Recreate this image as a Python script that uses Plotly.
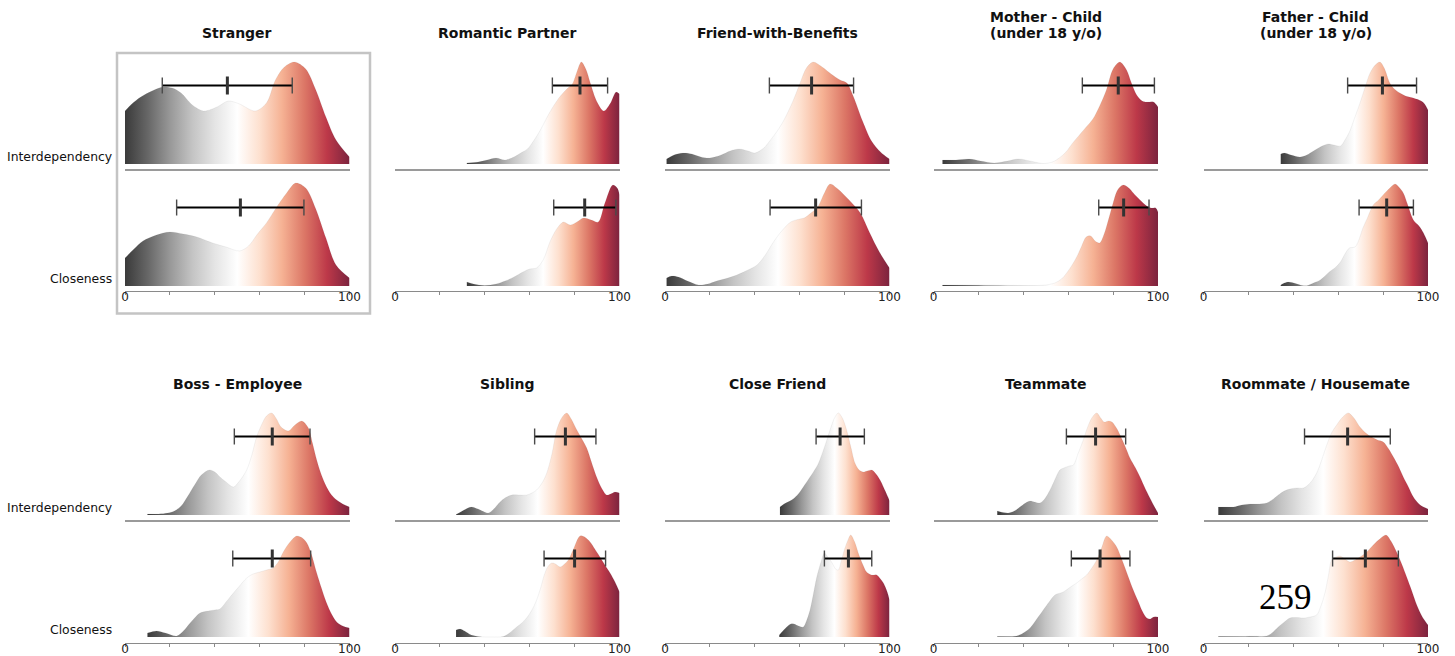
import plotly.graph_objects as go

# ---------------------------------------------------------------- data
# Relationship types, in panel order (two rows of five)
RELATIONSHIPS = [
    "Stranger", "Romantic Partner", "Friend-with-Benefits",
    "Mother - Child<br>(under 18 y/o)", "Father - Child<br>(under 18 y/o)",
    "Boss - Employee", "Sibling", "Close Friend", "Teammate", "Roommate / Housemate",
]
MEASURES = ["Interdependency", "Closeness"]

# Scaled density curves: (rating, density) pairs, peak of each curve ~100
STRANGER_INTER = [(0, 53), (3, 60), (7, 67), (12, 73), (17, 77), (21, 76), (25, 71), (30, 59), (35, 53),
                  (41, 57), (46, 63), (51, 60), (58, 53), (63, 61), (67, 84), (71, 97), (75.5, 102),
                  (80.5, 95), (85, 74), (89.5, 47), (94, 24), (100, 7)]
STRANGER_CLOSE = [(0, 28), (4, 37), (8, 45), (14, 51), (20, 54), (26, 52), (32, 49), (39, 43), (45, 39),
                  (51, 35), (55, 40), (59, 52), (63, 63), (67, 77), (72, 93), (76, 103), (80.5, 98),
                  (85, 77), (89.5, 48), (94, 21), (100, 8)]
ROMANTIC_INTER = [(32, 1), (37, 2), (41, 4), (45, 6), (49, 4), (53, 7), (56, 11), (59, 15), (62, 24),
                  (65, 35), (69, 52), (73, 66), (77, 76), (79, 80), (81, 92), (83, 102), (85, 95),
                  (87, 81), (90, 62), (93, 53), (96, 61), (98.5, 72), (100, 70)]
ROMANTIC_CLOSE = [(32, 4), (35, 2), (40, 0.5), (45, 2), (49, 5), (53, 9), (57, 14), (60, 17), (63, 18),
                  (66, 26), (69, 44), (72, 57), (75, 64), (78, 61), (81, 64), (84, 68), (87.5, 66),
                  (90.5, 64), (93.5, 83), (97, 101), (99, 98), (100, 91)]
FWB_INTER = [(0.7, 5), (4, 9), (8, 11), (12, 10), (16, 7), (20, 6), (25, 9), (29, 13), (33, 15), (37, 13),
             (40, 11), (44, 16), (47, 24), (50, 33), (53, 44), (57, 63), (60, 80), (63, 96), (66, 102),
             (70, 97), (74, 90), (78, 84), (81, 81), (84, 67), (88, 43), (92, 23), (96, 12), (100, 5)]
FWB_CLOSE = [(0.7, 8), (3, 10), (6, 9), (10, 5), (15, 1), (19, 2), (23, 5), (28, 8), (32, 11), (36, 15),
             (41, 21), (45, 32), (48, 43), (52, 55), (56, 64), (60, 67), (62, 68), (65, 73), (68, 79),
             (71, 93), (73.5, 102), (77, 97), (82, 86), (87, 73), (91, 54), (95.5, 34), (100, 18)]
MOTHER_INTER = [(4, 4), (10, 4), (16, 5), (21, 3), (27, 1), (33, 3), (38, 5), (43, 3), (49, 0.5), (53, 2),
                (56, 6), (59, 12), (62, 21), (65, 29), (68, 37), (71, 45), (74, 58), (77, 74), (80, 95),
                (83, 102), (86, 94), (88, 82), (90.5, 69), (93, 63), (95, 62), (98, 62), (100, 57)]
MOTHER_CLOSE = [(4, 1), (15, 1), (25, 0.8), (35, 0.6), (45, 0.5), (50, 1), (54, 3), (57, 7), (59, 12),
                (62, 22), (64, 30), (66, 40), (68, 49), (70, 50), (72, 45), (74, 43), (76, 52), (78, 67),
                (80, 83), (82, 96), (84.5, 101), (87, 98), (89, 93), (92, 86), (95, 80), (97, 78),
                (99, 78), (100, 74)]
FATHER_INTER = [(34.4, 10), (36, 11), (39, 9), (43, 7), (46, 9), (49, 13), (52, 17), (55.5, 20), (58, 19),
                (61, 18), (63, 24), (65, 32), (67, 44), (69.7, 61), (72, 77), (74.2, 91), (76.5, 99),
                (78.6, 102), (80.5, 96), (83, 81), (85, 75), (87.5, 71), (90, 68), (93.5, 66), (97, 63),
                (98.5, 60), (100, 54)]
FATHER_CLOSE = [(34.4, 1), (36, 3), (38, 4), (41, 2.5), (44, 0.5), (46, 0.3), (49, 3), (52, 6), (56, 14),
                (59, 19), (61, 24), (63, 32), (65, 38), (67.5, 39), (69, 45), (71, 58), (73, 68),
                (75.6, 81), (78, 86), (80, 91), (83, 98), (85.3, 102), (87, 99), (89, 93), (91, 81),
                (93.5, 66), (96, 60), (98, 53), (100, 43)]
BOSS_INTER = [(10, 1), (15, 1), (19, 2), (22, 4), (25, 9), (28, 19), (31, 30), (34, 40), (37.6, 45),
              (40, 43), (42.3, 38), (45, 33), (48.3, 28), (51, 34), (54.2, 45), (56.5, 60), (58.6, 78),
              (61, 91), (63, 99), (65.3, 102), (67.5, 96), (69.5, 88), (72.7, 84), (75.7, 90), (78.7, 94),
              (81.7, 87), (83.5, 72), (85.4, 55), (87.5, 40), (89.8, 28), (92, 20), (94.3, 15), (97, 11),
              (100, 8)]
BOSS_CLOSE = [(10, 4), (14, 6), (18, 4), (23, 1), (26, 6), (29, 14), (31, 19), (33.4, 24), (37, 26),
              (40, 27), (42.3, 28), (45, 35), (48.3, 44), (51, 51), (54.2, 59), (57, 63), (60, 65),
              (63, 67), (66, 69), (68.5, 76), (70.5, 85), (73.5, 95), (76.5, 101), (79, 99), (81, 94),
              (83, 83), (85.4, 64), (87.5, 49), (89.8, 34), (92, 23), (94.3, 15), (97, 11), (100, 9)]
SIBLING_INTER = [(27.2, 0.5), (30, 4), (34, 8), (37, 6), (41.6, 2), (44, 6), (46.8, 13), (49, 17), (52, 20),
                 (55, 20), (58.6, 20), (61, 22), (63.1, 25), (65.5, 32), (67.6, 42), (70, 62), (72, 85),
                 (74.5, 98), (76.5, 102), (78.5, 96), (81, 85), (83, 77), (85.4, 67), (87.5, 53),
                 (89.8, 38), (92, 27), (94.3, 20), (96, 21), (98, 23), (100, 22)]
SIBLING_CLOSE = [(27.2, 7), (29, 8), (31, 6), (34, 2), (38, 0.3), (43, 0), (48.3, 0.5), (51, 4), (54.2, 10),
                 (56.5, 14), (58.6, 19), (61, 27), (63.1, 37), (65, 50), (66.5, 62), (68, 70), (69.8, 74),
                 (71.5, 73), (73.5, 70), (75.5, 73), (77.2, 77), (79.5, 88), (82.4, 101), (84.5, 100),
                 (86.9, 95), (89, 88), (91.3, 80), (93.5, 72), (95.8, 64), (98, 55), (100, 45)]
CLOSEFRIEND_INTER = [(51.2, 8), (53, 11), (56.4, 15), (59, 20), (61.6, 28), (64, 36), (66.1, 43), (68, 50),
                     (69.8, 60), (71.5, 71), (73.5, 85), (75.5, 97), (77.2, 102), (79, 97), (80.9, 85),
                     (82.8, 68), (84.6, 52), (86.5, 45), (88.3, 43), (90, 44), (92.1, 45), (94, 41),
                     (95.8, 35), (97.5, 27), (99.5, 17), (100, 14)]
CLOSEFRIEND_CLOSE = [(50.9, 2), (52.5, 6), (54.2, 10), (56, 13), (57.5, 13), (59.5, 11), (61.6, 10), (63, 16),
                     (64.6, 27), (66, 42), (67.6, 60), (69.5, 75), (71, 84), (72.5, 80), (74.2, 75), (76, 68),
                     (77.2, 67), (78.5, 76), (80, 88), (81.5, 97), (82.7, 102), (84.5, 95), (86.1, 84),
                     (88, 73), (89.8, 65), (92, 62), (94.3, 62), (96, 58), (97.3, 54), (99, 45), (100, 37)]
TEAMMATE_INTER = [(28.4, 4), (31, 2.5), (33.3, 2), (36, 4), (38.5, 8), (41, 12), (43, 14), (45, 13),
                  (47.4, 12), (49.5, 16), (51.9, 25), (54, 35), (56.3, 45), (58, 47), (60.5, 49), (62.3, 50),
                  (64.5, 62), (66.7, 75), (68.5, 87), (70.5, 97), (72.7, 102), (74.5, 97), (76, 93),
                  (78, 94), (79.5, 93), (81.5, 87), (83.1, 80), (85.5, 68), (87.5, 57), (90, 47), (92, 38),
                  (94, 28), (96.4, 17), (98.5, 8), (100, 2)]
TEAMMATE_CLOSE = [(28.4, 0.5), (33, 0.5), (37, 1), (40, 4), (43, 9), (46, 18), (48.9, 27), (51.5, 35),
                  (54.1, 42), (57.8, 45), (61, 50), (63.8, 54), (66, 58), (68.2, 62), (70.5, 69),
                  (72.7, 77), (75, 90), (77.1, 101), (79.3, 97), (81.6, 90), (84, 77), (86.8, 60), (89, 47),
                  (91.3, 35), (93, 26), (95, 19), (96.5, 18), (98, 20), (100, 20)]
ROOMMATE_INTER = [(6.6, 8), (10, 8), (13.3, 8), (17, 10), (20.7, 11), (24, 11), (28.1, 12), (30.5, 15),
                  (33.3, 20), (36, 24), (38.5, 26), (41.5, 27), (44.5, 27), (47.5, 32), (50.4, 42),
                  (52.5, 54), (54.9, 70), (57, 82), (59.3, 90), (62, 98), (64.5, 102), (67, 97), (69.7, 88),
                  (72.3, 82), (74.9, 78), (77.5, 75), (80.1, 73), (82.5, 66), (84.6, 58), (87, 48), (89, 38),
                  (91.3, 28), (93.5, 18), (96, 11), (98, 8), (100, 6)]
ROOMMATE_CLOSE = [(6.6, 0.5), (15, 0.5), (22, 0.8), (28.1, 1), (30.5, 4), (33.3, 10), (36, 15), (38.5, 19),
                  (41.5, 19.5), (44.5, 19), (47.5, 20), (50.4, 22), (52.3, 31), (54.1, 44), (55.7, 62),
                  (57.1, 77), (59, 80), (60.8, 81), (63, 78), (65.2, 75), (67.5, 77), (69.7, 80), (72.7, 85),
                  (75.6, 92), (78.5, 98), (81.3, 102), (83.5, 96), (86, 85), (88.3, 73), (90.5, 60),
                  (92.8, 46), (95, 32), (97.5, 20), (100, 12)]

INTER_CURVES = [STRANGER_INTER, ROMANTIC_INTER, FWB_INTER, MOTHER_INTER, FATHER_INTER,
                BOSS_INTER, SIBLING_INTER, CLOSEFRIEND_INTER, TEAMMATE_INTER, ROOMMATE_INTER]
CLOSE_CURVES = [STRANGER_CLOSE, ROMANTIC_CLOSE, FWB_CLOSE, MOTHER_CLOSE, FATHER_CLOSE,
                BOSS_CLOSE, SIBLING_CLOSE, CLOSEFRIEND_CLOSE, TEAMMATE_CLOSE, ROOMMATE_CLOSE]

# (lower, mean, upper) of each rating
INTER_SUMMARY = [(16.6, 45.6, 74.5), (70.1, 82.4, 94.7), (46.5, 65.3, 84.0), (66.3, 82.3, 98.4),
                 (64.2, 79.7, 94.9), (48.7, 65.6, 82.4), (62.2, 75.9, 89.5), (67.3, 78.0, 88.8),
                 (59.2, 72.2, 85.6), (45.0, 64.2, 83.2)]
CLOSE_SUMMARY = [(23.0, 51.4, 79.7), (70.7, 84.5, 98.4), (46.8, 67.1, 87.5), (73.6, 84.7, 96.0),
                 (69.3, 81.6, 93.5), (48.0, 65.6, 82.7), (66.4, 80.0, 93.8), (71.0, 81.7, 92.1),
                 (61.4, 74.2, 87.5), (57.5, 72.1, 86.8)]

TICK_VALUES = [0, 20, 40, 60, 80, 100]
TICK_LABELS = ["0", "", "", "", "", "100"]
STAMP_TEXT = "259"

# ---------------------------------------------------------------- styling
W, H = 1455, 656
PANEL_X0 = [125, 395, 665, 933.5, 1203.5]
PANEL_W = 224.5
BASELINES = [(164, 286), (515, 637)]
AXIS_GAP = [(4.5, 4.7), (5.0, 5.5)]
TITLE_BOTTOM = [43, 394]
RIDGE_TOP = 125          # plotted height of each ridge, in density units (1 unit = 1 px)
BAR_LEVEL = 78.5         # height at which the interval bar is drawn
FONT = "DejaVu Sans, Verdana, sans-serif"
A = 0.86
RDGY_R = [(26, 26, 26), (77, 77, 77), (135, 135, 135), (186, 186, 186), (224, 224, 224),
          (255, 255, 255), (253, 219, 199), (244, 165, 130), (214, 96, 77), (178, 24, 43), (103, 0, 31)]
COLORSCALE = [[i / 10, f"rgba({r},{g},{b},{A})"] for i, (r, g, b) in enumerate(RDGY_R)]


def py(p):
    return 1 - p / H


fig = go.Figure()
layout = {}
annotations = []

for i, name in enumerate(RELATIONSHIPS):
    row, col = divmod(i, 5)
    x0 = PANEL_X0[col]
    for k, (curve, summary) in enumerate([(INTER_CURVES[i], INTER_SUMMARY[i]),
                                          (CLOSE_CURVES[i], CLOSE_SUMMARY[i])]):
        n = i * 2 + k + 1
        sfx = "" if n == 1 else str(n)
        base = BASELINES[row][k]
        gap = AXIS_GAP[row][k]

        # density ridge with a grey-white-red gradient across its own span
        xs = [p[0] for p in curve]
        ys = [p[1] for p in curve]
        fig.add_trace(go.Scatter(
            x=xs, y=ys, mode="lines", line=dict(width=0.6, shape="spline", smoothing=0.9,
                                                color="rgba(120,120,120,0.15)"),
            fill="tozeroy", fillgradient=dict(type="horizontal", colorscale=COLORSCALE),
            xaxis="x" + sfx, yaxis="y" + sfx, hoverinfo="skip", showlegend=False))

        # interval bar with end caps and a mean tick
        lo, mean, hi = summary
        fig.add_trace(go.Scatter(
            x=[lo, hi], y=[BAR_LEVEL, BAR_LEVEL], mode="lines",
            line=dict(color="black", width=2.2), xaxis="x" + sfx, yaxis="y" + sfx,
            hoverinfo="skip", showlegend=False))
        fig.add_trace(go.Scatter(
            x=[lo, lo, None, hi, hi],
            y=[BAR_LEVEL - 8, BAR_LEVEL + 8, None, BAR_LEVEL - 8, BAR_LEVEL + 8],
            mode="lines", line=dict(color="#4a4a4a", width=1.4), xaxis="x" + sfx, yaxis="y" + sfx,
            hoverinfo="skip", showlegend=False))
        fig.add_trace(go.Scatter(
            x=[mean, mean], y=[BAR_LEVEL - 9, BAR_LEVEL + 9], mode="lines",
            line=dict(color="#333333", width=3), xaxis="x" + sfx, yaxis="y" + sfx,
            hoverinfo="skip", showlegend=False))

        xa = dict(domain=[x0 / W, (x0 + PANEL_W) / W], range=[0, 100], anchor="y" + sfx,
                  showgrid=False, zeroline=False, showline=True, fixedrange=True, automargin=False)
        if k == 0:
            xa.update(linecolor="#9a9a9a", linewidth=2, ticks="", showticklabels=False)
        else:
            xa.update(linecolor="#8a8a8a", linewidth=1.2, ticks="outside", ticklen=3, tickwidth=1,
                      tickcolor="#8a8a8a", tickvals=TICK_VALUES, ticktext=TICK_LABELS,
                      ticklabelstandoff=-8,
                      tickfont=dict(family=FONT, size=12, color="#222222"))
        ya = dict(domain=[py(base + gap), py(base - RIDGE_TOP)], range=[-gap, RIDGE_TOP],
                  visible=False, anchor="x" + sfx, fixedrange=True, automargin=False)
        layout["xaxis" + sfx] = xa
        layout["yaxis" + sfx] = ya

        if col == 0:
            annotations.append(dict(
                x=114 / W, y=py(base - 8), xref="paper", yref="paper", text=MEASURES[k],
                xanchor="right", yanchor="middle", showarrow=False,
                font=dict(family=FONT, size=12.4, color="#111111")))

    # panel title, one annotation per line
    lines = name.split("<br>")
    for j, line in enumerate(reversed(lines)):
        annotations.append(dict(
            x=(x0 + PANEL_W / 2) / W, y=py(TITLE_BOTTOM[row] - 16 * j), xref="paper", yref="paper",
            text="<b>" + line + "</b>", xanchor="center", yanchor="bottom", showarrow=False,
            font=dict(family=FONT, size=14, color="#111111")))

annotations.append(dict(
    x=1285 / W, y=py(597), xref="paper", yref="paper", text=STAMP_TEXT, showarrow=False,
    xanchor="center", yanchor="middle",
    font=dict(family="Liberation Serif, Times New Roman, serif", size=35, color="black")))

shapes = [dict(type="rect", xref="paper", yref="paper",
               x0=117 / W, x1=370 / W, y0=py(313.5), y1=py(53),
               line=dict(color="#c4c4c4", width=2.5), fillcolor="rgba(0,0,0,0)")]

fig.update_layout(
    width=W, height=H, margin=dict(l=0, r=0, t=0, b=0, autoexpand=False),
    paper_bgcolor="white", plot_bgcolor="rgba(0,0,0,0)",
    annotations=annotations, shapes=shapes, showlegend=False, **layout)

fig.write_html("out.html", config={"responsive": False})
